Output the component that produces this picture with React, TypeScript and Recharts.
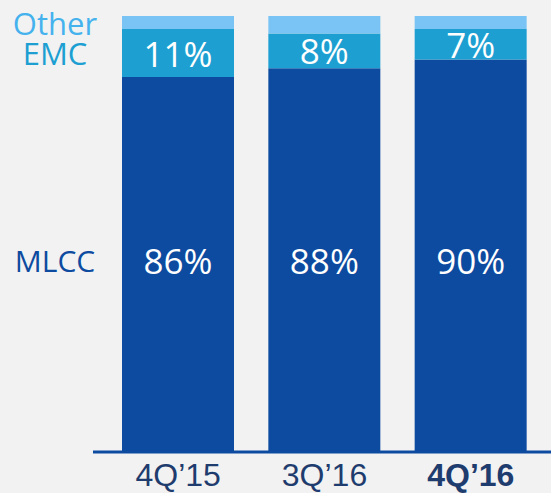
import React from 'react'
import { BarChart, Bar, XAxis, YAxis, LabelList } from 'recharts'

const periods = ['4Q’15', '3Q’16', '4Q’16']
const mlcc = [86, 88, 90]
const emc = [11, 8, 7]
const other = [3, 4, 3]
const seriesNames = ['MLCC', 'EMC', 'Other']

const data = periods.map((p, i) => ({
  period: p,
  MLCC: mlcc[i],
  EMC: emc[i],
  Other: other[i],
}))

const COLORS: Record<string, string> = {
  MLCC: '#0d4ba0',
  EMC: '#1e9fd2',
  Other: '#79c4f4',
}
const NAME_COLORS: Record<string, string> = {
  MLCC: '#0d4ba0',
  EMC: '#1e9fd2',
  Other: '#45b2ee',
}

const FONT = '"Open Sans", "Noto Sans", sans-serif'

// value in the segment, plus the series name on the left for the first bar
const makeLabel = (name: string, showValue: boolean) => (props: any) => {
  const { x, y, width, height, value, index } = props
  let cy = y + height / 2
  // the big MLCC values all sit on one line in the original
  if (name === 'MLCC') cy = y + height - (height / value) * 44
  return (
    <g>
      {showValue && (
        <text
          x={x + width / 2}
          y={cy}
          fill="#fff"
          fontSize={35}
          fontFamily={FONT}
          textAnchor="middle"
          dominantBaseline="central"
        >
          {value}%
        </text>
      )}
      {index === 0 && (
        <text
          x={55}
          y={cy}
          fill={NAME_COLORS[name]}
          fontSize={name === 'MLCC' ? 30 : 31}
          fontFamily={FONT}
          textAnchor="middle"
          dominantBaseline="central"
        >
          {name}
        </text>
      )}
    </g>
  )
}

const PeriodTick = (props: any) => {
  const { x, y, payload, index } = props
  return (
    <text
      x={x}
      y={y + 26}
      fill="#1f3c6e"
      fontSize={32}
      fontFamily='"Liberation Sans", Arial, sans-serif'
      fontWeight={index === periods.length - 1 ? 'bold' : 'normal'}
      textAnchor="middle"
    >
      {payload.value}
    </text>
  )
}

export default function App() {
  return (
    <div
      style={{
        position: 'absolute',
        left: 0,
        top: 0,
        width: 551,
        height: 493,
        background: '#f2f2f2',
      }}
    >
      <BarChart
        width={551}
        height={493}
        data={data}
        margin={{ top: 16, right: 0, bottom: 0, left: 93 }}
        barSize={112}
      >
        <YAxis hide domain={[0, 100]} />
        <XAxis
          dataKey="period"
          height={41}
          padding={{ left: 12, right: 7 }}
          axisLine={{ stroke: '#0d4ba0', strokeWidth: 3 }}
          tickLine={false}
          tick={<PeriodTick />}
          interval={0}
        />
        {seriesNames.map((name) => (
          <Bar
            key={name}
            dataKey={name}
            stackId="a"
            fill={COLORS[name]}
            isAnimationActive={false}
          >
            <LabelList dataKey={name} content={makeLabel(name, name !== 'Other')} />
          </Bar>
        ))}
      </BarChart>
    </div>
  )
}
